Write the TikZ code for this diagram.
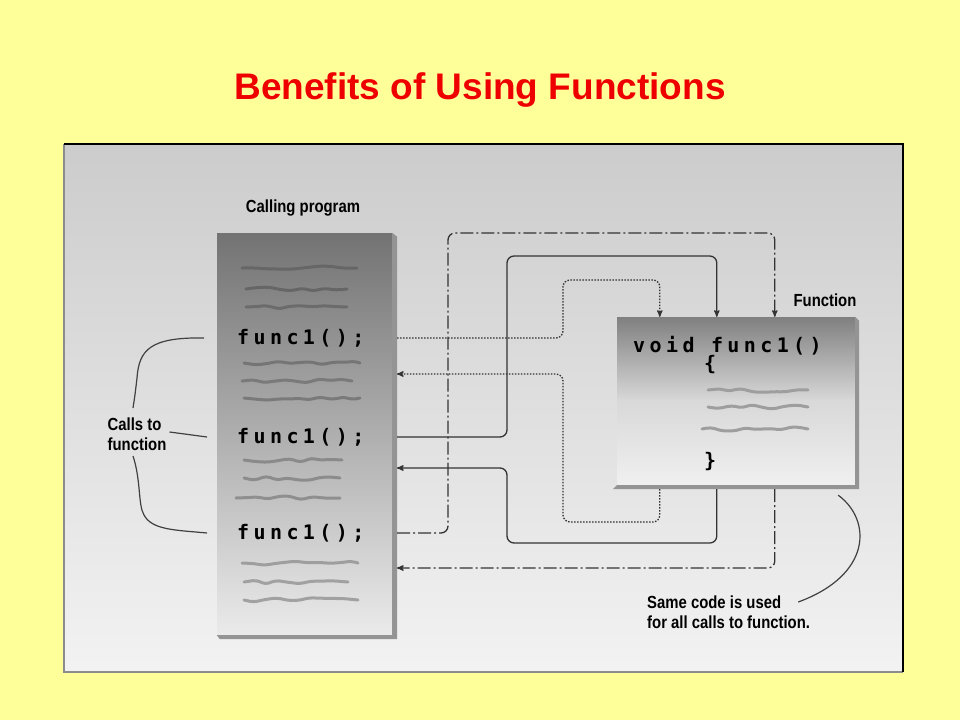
\documentclass[tikz,border=0pt]{standalone}
\usepackage{fontspec}
\setmainfont{Liberation Sans}
\newfontfamily\lblfont[FakeStretch=0.85]{Liberation Sans}
\newfontfamily\codefont[LetterSpace=22]{DejaVu Sans Mono}
\usetikzlibrary{arrows,calc,positioning,decorations.pathmorphing}
\definecolor{slideyellow}{HTML}{FFFF99}
\definecolor{titlered}{HTML}{EE0000}

\begin{document}
\begin{tikzpicture}[x=1pt,y=-1pt,
		lbl/.style={font=\lblfont\bfseries\fontsize{17.5}{20}\selectfont, align=left, inner sep=0},
		code/.style={font=\codefont\bfseries\fontsize{20}{22}\selectfont, inner sep=0, anchor=west},
		conn/.style={draw=black!80, line width=1.3pt, rounded corners=7pt},
		callA/.style={conn, dash pattern=on 1.5pt off 1.5pt},
		callB/.style={conn},
		callC/.style={conn, dash pattern=on 13pt off 3pt on 2pt off 3pt},
		wig/.style={line width=3pt, line cap=round, decorate, decoration={random steps, segment length=11pt, amplitude=2.4pt}, rounded corners=4pt},
		bline/.style={draw=black!75, line width=1.2pt},
		>=stealth']
		\pgfmathsetseed{11}
		% slide and panel
		\fill[slideyellow] (0,0) rectangle (960,720);
		\shade[top color=black!20, bottom color=black!5] (64,144) rectangle (903,672);
		\draw[black!45, line width=1.5pt] (64,144) -- (64,672) -- (903,672);
		\draw[black, line width=1.8pt] (64,144) -- (903,144) -- (903,672);
		\node[font=\bfseries\fontsize{37}{42}\selectfont, text=titlered] (title) at (480,90) {Benefits of Using Functions};

		% calling program
		\node[lbl] (proglbl) at (303,208) {Calling program};
		\node[minimum width=175pt, minimum height=402pt, top color=black!55, bottom color=black!8, inner sep=0] (prog) at (304.5,434) {};
		\fill[black!42] (prog.north east) -- ($(prog.north east)+(5,4)$) -- ($(prog.south east)+(5,4)$) -- ($(prog.south west)+(3,4)$) -- (prog.south west) -- (prog.south east) -- cycle;
		\foreach \y/\a/\b/\c in {268/242/357/60, 289/246/347/60, 307/246/347/58,
			363/244/360/54, 381/242/352/52, 398/244/360/52,
			460/244/342/46, 478/244/340/45, 498/236/340/44,
			563/242/358/38, 582/244/348/37, 600/244/358/37}
			\draw[wig, black!\c] (\a,\y) -- (\b,\y);
		\node[code] (f1) at (237,338) {func1();};
		\node[code] (f2) at (237,437) {func1();};
		\node[code] (f3) at (237,533) {func1();};

		% function
		\node[lbl] (fnlbl) at (825,300) {Function};
		\node[minimum width=238pt, minimum height=168pt, top color=black!50, bottom color=black!6, middle color=black!15, inner sep=0] (fn) at (736,401) {};
		\fill[black!42] (fn.north east) -- ($(fn.north east)+(4,4)$) -- ($(fn.south east)+(4,4)$) -- ($(fn.south west)+(-4,4)$) -- (fn.south west) -- (fn.south east) -- cycle;
		\node[code] (sig) at (633,346) {void func1()};
		\node[code] (ob) at (704,365) {\{};
		\node[code] (cb) at (704,462) {\}};
		\foreach \y/\a/\b in {390/708/808, 407/708/808, 429/702/808}
			\draw[wig, black!38] (\a,\y) -- (\b,\y);

		% connectors
		\coordinate (pe) at ([xshift=5pt]prog.east);
		\coordinate (i1) at ([xshift=43pt]fn.north west);
		\coordinate (i2) at ([xshift=100pt]fn.north west);
		\coordinate (i3) at ([xshift=158pt]fn.north west);
		\coordinate (o1) at ($(fn.south west)+(43,4)$);
		\coordinate (o2) at ($(fn.south west)+(100,4)$);
		\coordinate (o3) at ($(fn.south west)+(158,4)$);
		\coordinate (r1) at (397,374);
		\coordinate (r2) at (397,468);
		\coordinate (r3) at (397,568);
		\draw[callA,->] (pe |- f1) -| (563,280) -| (i1);
		\draw[callA,->] (o1) |- (563,522) |- (r1);
		\draw[callB,->] (pe |- f2) -| (507,256) -| (i2);
		\draw[callB,->] (o2) |- (507,543) |- (r2);
		\draw[callC,->] (pe |- f3) -| (448,233) -| (i3);
		\draw[callC,->] (o3) |- (r3);

		% calls to function
		\node[lbl] (calls) at (137,434) {Calls to\\function};
		\draw[bline] ([xshift=-33pt]f1.west) .. controls (150,337) and (139,350) .. (137,378) .. controls (135,395) .. (133,408);
		\draw[bline] ([xshift=3pt]calls.east |- 0,432) -- ([xshift=-30pt]f2.west);
		\draw[bline] (133,456) .. controls (141,480) and (138,505) .. (144,515) .. controls (152,530) and (175,530) .. ([xshift=-30pt]f3.west);

		% same code
		\node[lbl, anchor=north west] (same) at (647,596) {Same code is used\\for all calls to function.};
		\draw[bline] ($(fn.south east)+(-17,10)$) .. controls (872,520) and (872,575) .. ($(same.north east)+(-12,6)$);
\end{tikzpicture}
\end{document}
